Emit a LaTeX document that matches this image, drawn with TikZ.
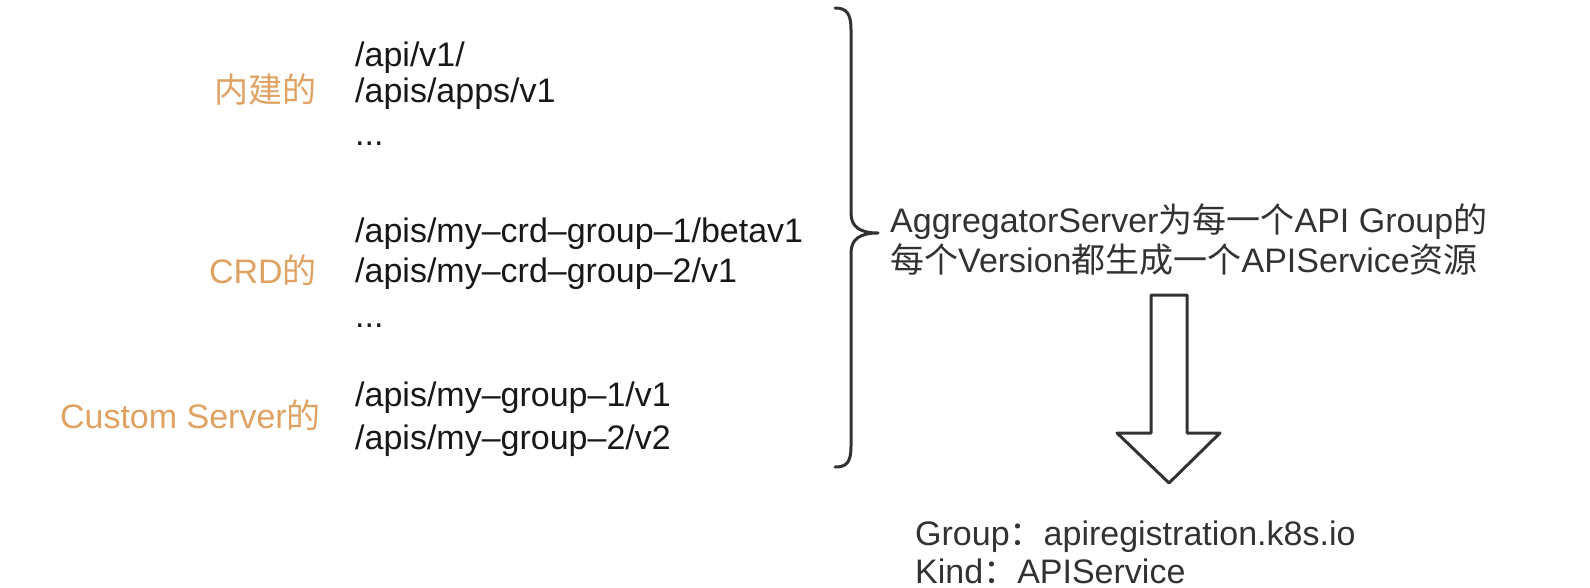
\documentclass[tikz,border=0pt]{standalone}
\usepackage{fontspec}
\setmainfont{Liberation Sans}
\newfontfamily\cjk{Noto Sans CJK SC}
\definecolor{srcorange}{RGB}{224,162,98}
\definecolor{pathink}{RGB}{24,24,24}
\definecolor{noteink}{RGB}{50,50,50}
\tikzset{
  apiline/.style={anchor=base west, inner sep=0pt, text=pathink, font=\fontsize{34}{40}\selectfont},
  srclabel/.style={anchor=base east, inner sep=0pt, text=srcorange, font=\fontsize{34}{40}\selectfont},
  notetext/.style={anchor=base west, inner sep=0pt, text=noteink, font=\fontsize{34}{40}\selectfont}
}
\begin{document}
\begin{tikzpicture}[x=1pt, y=-1pt]

  % Fix the page to the size of the reference
  \useasboundingbox (0, 0) rectangle (1590, 588);

  % Built-in API paths
  \node[apiline] (apiv1) at (355, 67) {/api/v1/};
  \node[apiline] (appsv1) at (355, 103) {/apis/apps/v1};
  \node[apiline] (builtdots) at (355, 146) {...};
  \node[srclabel] (builtin) at (317, 103) {\cjk 内建的};

  % CRD API paths
  \node[apiline] (crdone) at (355, 242) {/apis/my–crd–group–1/betav1};
  \node[apiline] (crdtwo) at (355, 282) {/apis/my–crd–group–2/v1};
  \node[apiline] (crddots) at (355, 327) {...};
  \node[srclabel] (crd) at (317, 283) {CRD{\cjk 的}};

  % Custom server API paths
  \node[apiline] (grpone) at (355, 406) {/apis/my–group–1/v1};
  \node[apiline] (grptwo) at (355, 449) {/apis/my–group–2/v2};
  \node[srclabel] (custom) at (321, 428) {Custom Server{\cjk 的}};

  % Curly brace gathering all the paths
  \draw[noteink, line width=3pt, line cap=round, line join=round]
    (835, 8) .. controls (847, 8) and (851, 14) .. (851, 30) -- (851, 213)
    .. controls (851, 227) and (860, 233) .. (878, 233)
    .. controls (860, 233) and (851, 239) .. (851, 253) -- (851, 446)
    .. controls (851, 462) and (847, 467) .. (835, 467);

  % What the aggregator does
  \node[notetext] (aggone) at (890, 233) {AggregatorServer{\cjk 为每一个}API Group{\cjk 的}};
  \node[notetext] (aggtwo) at (890, 272) {{\cjk 每个}Version{\cjk 都生成一个}APIService{\cjk 资源}};

  % Hollow arrow pointing down to the result
  \draw[noteink, line width=3pt, line join=round]
    (1151, 295) -- (1187, 295) -- (1187, 433) -- (1220, 433) -- (1169, 483)
    -- (1117, 433) -- (1151, 433) -- cycle;

  % Resulting resource type
  \node[notetext] (group) at (915, 545) {Group{\cjk ：}apiregistration.k8s.io};
  \node[notetext] (kind) at (915, 583) {Kind{\cjk ：}APIService};

\end{tikzpicture}
\end{document}
